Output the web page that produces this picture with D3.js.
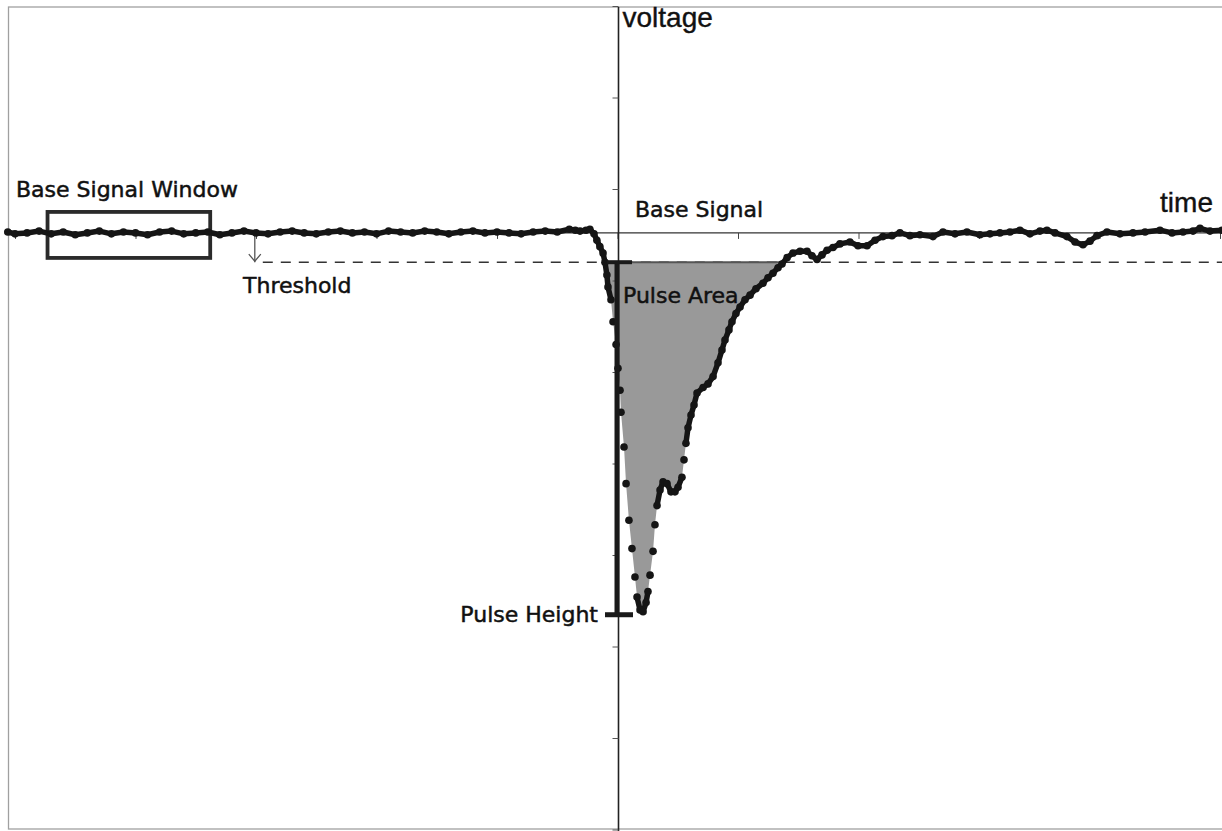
<!DOCTYPE html>
<html>
<head>
<meta charset="utf-8">
<script src="https://cdn.jsdelivr.net/npm/d3@7"></script>
<style>
  body{margin:0;background:#fff;}
  svg{display:block;}
  .lbl{font-family:"DejaVu Sans",sans-serif;font-size:22px;fill:#111;stroke:#111;stroke-width:0.5;}
  .axlbl{font-family:"Liberation Sans",Arial,sans-serif;font-size:28px;fill:#111;stroke:#111;stroke-width:0.4;}
</style>
</head>
<body>
<div id="chart"></div>
<script>
// samples before the pulse (time in us, voltage in mV)
const preTimes = [-50.6,-50,-49,-48,-47,-46,-45,-44,-43,-42,-41,-40,-39,-38,-37,-36,-35,-34,-33,-32,-31,-30,-29,-28,-27,-26,-25,-24,-23,-22,-21,-20,-19,-18,-17,-16,-15,-14,-13,-12,-11,-10,-9,-8,-7,-6,-5,-4,-3.5];
const preVolts = [-24.7,-24.9,-24.8,-24.6,-24.9,-24.7,-25.0,-24.8,-24.6,-24.9,
                  -24.7,-24.8,-25.0,-24.7,-24.6,-24.9,-24.8,-24.7,-25.0,-24.8,
                  -24.6,-24.8,-24.9,-24.7,-24.6,-24.8,-24.9,-24.7,-24.6,-24.8,
                  -24.7,-24.9,-24.6,-24.7,-24.8,-24.6,-24.7,-24.9,-24.7,-24.6,
                  -24.8,-24.7,-24.8,-24.9,-24.7,-24.6,-24.7,-24.4,-24.5];

// samples of the pulse and the tail after it
const pulseTimes = [-3.11,-2.61,-2.29,-1.95,-1.71,-1.46,-1.20,-1.04,-0.88,-0.79,-0.54,-0.37,-0.12,0.04,0.21,0.29,0.54,0.71,0.95,1.20,1.45,1.62,1.87,2.12,
                    2.37,2.53,2.70,2.95,3.11,3.28,3.53,3.78,4.11,4.44,4.77,5.02,5.35,5.52,5.68,5.85,6.10,6.35,6.60,7.10,7.51,7.93,8.34,8.67,8.92,9.25,9.50,9.83,
                    10.17,10.58,11.00,11.49,12.07,12.49,12.90,13.32,13.65,14.07,14.56,15.15,15.73,16.14,16.56,16.97,17.39,17.88,18.46,19.29,19.96,20.71,21.37,
                    22.03,22.78,23.44,24.27,25.10,26.18,27.01,28.01,29.00,30.08,30.91,31.74,32.57,33.40,34.23,35.06,35.64,36.31,37.30,37.97,38.63,39.21,39.79,
                    40.62,41.70,42.78,43.78,45.02,46.02,46.93,47.76,48.34,49.17,50.17];
const pulseVolts = [-24.6,-24.5,-24.4,-24.9,-25.6,-26.3,-27.0,-28.0,-29.4,-30.7,-32.1,-34.5,-37.0,-39.6,-42.0,-44.4,-48.2,-52.2,-56.2,-59.3,-62.4,-64.6,-66.0,-66.2,
                    -65.2,-64.0,-62.2,-59.6,-56.7,-54.6,-52.9,-52.0,-52.2,-53.1,-53.1,-52.6,-51.5,-49.6,-47.8,-46.1,-44.7,-43.6,-42.3,-41.7,-41.3,-40.5,-39.0,-37.6,-36.5,-35.4,-34.5,-33.6,
                    -32.9,-32.1,-31.6,-30.9,-30.3,-29.7,-29.2,-28.6,-28.2,-27.5,-27.0,-26.8,-26.8,-27.3,-27.7,-27.2,-26.7,-26.4,-26.0,-25.8,-26.2,-26.2,-25.6,
                    -25.2,-25.1,-24.8,-25.1,-25.0,-25.2,-24.7,-24.9,-24.7,-25.0,-24.9,-24.8,-24.7,-24.5,-24.9,-24.6,-24.5,-24.8,-25.2,-25.8,-26.1,-25.7,-25.1,
                    -24.7,-24.9,-24.8,-24.7,-24.5,-24.8,-24.7,-24.6,-24.3,-24.6,-24.5];

const xTicks = [-50,-40,-30,-20,-10,0,10,20,30,40,50];
const yTicks = [0,-10,-20,-30,-40,-50,-60,-70,-80,-90];

const baseSignal = -24.8;     //base signal level
const threshold = -28.0;      //trigger threshold
const windowStart = -47.3;    //base signal window
const windowEnd = -33.8;
const thresholdMark = -30.1;  //where the threshold arrow is drawn

const w = 1222;
const h = 831;

const xScale = d3.scaleLinear().domain([-50,50]).range([15,1220]);
const yScale = d3.scaleLinear().domain([0,-90]).range([6,829.5]);

const svg = d3.select("#chart")
              .append("svg")
              .attr("width",w)
              .attr("height",h);

//frame
svg.append("rect")
   .attr("x",8.5).attr("y",7)
   .attr("width",w).attr("height",822)
   .attr("fill","none")
   .attr("stroke","#a0a0a0")
   .attr("stroke-width",1.3);

//all samples as points
const samples = preTimes.map((t,i)=>({t:t,v:preVolts[i]}))
                .concat(pulseTimes.map((t,i)=>({t:t,v:pulseVolts[i]})));

//pulse area between threshold and signal
const area = d3.area()
               .x(d=>xScale(d.t))
               .y0(yScale(threshold))
               .y1(d=>yScale(Math.min(d.v,threshold)));
svg.append("path")
   .datum(samples)
   .attr("d",area)
   .attr("fill","#999999");

//x axis (base signal line)
const baseY = yScale(baseSignal);
svg.append("line")
   .attr("x1",9).attr("x2",w)
   .attr("y1",baseY).attr("y2",baseY)
   .attr("stroke","#333").attr("stroke-width",1.3);
const xAxis = d3.axisBottom(xScale).tickValues(xTicks).tickSize(6).tickFormat("");
svg.append("g")
   .attr("transform","translate(0,"+baseY+")")
   .call(xAxis)
   .call(g=>g.select(".domain").remove())
   .selectAll("line").attr("stroke","#444");

//y axis
const axisX = xScale(0) + 1;
svg.append("line")
   .attr("x1",axisX).attr("x2",axisX)
   .attr("y1",7).attr("y2",h)
   .attr("stroke","#222").attr("stroke-width",1.6);
const yAxis = d3.axisLeft(yScale).tickValues(yTicks).tickSize(6).tickFormat("");
svg.append("g")
   .attr("transform","translate("+axisX+",0)")
   .call(yAxis)
   .call(g=>g.select(".domain").remove())
   .selectAll("line").attr("stroke","#555");

//threshold dashed line
const thrY = yScale(threshold);
svg.append("line")
   .attr("x1",xScale(thresholdMark)+8).attr("x2",w)
   .attr("y1",thrY).attr("y2",thrY)
   .attr("stroke","#333").attr("stroke-width",1.5)
   .attr("stroke-dasharray","10,8");

//solid top edge of the pulse area
const below = samples.filter(d=>d.v<=threshold);
svg.append("line")
   .attr("x1",xScale(below[0].t)).attr("x2",xScale(below[below.length-1].t)+4)
   .attr("y1",thrY).attr("y2",thrY)
   .attr("stroke","#555").attr("stroke-width",2);

//threshold arrow
const mx = xScale(thresholdMark);
svg.append("line")
   .attr("x1",mx).attr("x2",mx)
   .attr("y1",baseY).attr("y2",thrY)
   .attr("stroke","#555").attr("stroke-width",1.3);
svg.append("path")
   .attr("d","M"+(mx-6)+","+(thrY-8)+"L"+mx+","+(thrY-1)+"L"+(mx+6)+","+(thrY-8))
   .attr("fill","none").attr("stroke","#555").attr("stroke-width",1.3);

//base signal window
svg.append("rect")
   .attr("x",xScale(windowStart))
   .attr("y",baseY-21)
   .attr("width",xScale(windowEnd)-xScale(windowStart))
   .attr("height",46)
   .attr("fill","none")
   .attr("stroke","#2a2a2a")
   .attr("stroke-width",3.8);

//signal: segments only between close samples, dots at every sample
const pairs = [];
for(let i=1;i<samples.length;i++){
    const a = samples[i-1], b = samples[i];
    const dx = xScale(b.t)-xScale(a.t), dy = yScale(b.v)-yScale(a.v);
    if(Math.sqrt(dx*dx+dy*dy)<16) pairs.push([a,b]);
}
svg.selectAll("line.seg")
   .data(pairs)
   .enter()
   .append("line")
   .attr("class","seg")
   .attr("x1",d=>xScale(d[0].t)).attr("y1",d=>yScale(d[0].v))
   .attr("x2",d=>xScale(d[1].t)).attr("y2",d=>yScale(d[1].v))
   .attr("stroke","#151515")
   .attr("stroke-width",5.5)
   .attr("stroke-linecap","round");
svg.selectAll("circle")
   .data(samples)
   .enter()
   .append("circle")
   .attr("cx",d=>xScale(d.t))
   .attr("cy",d=>yScale(d.v))
   .attr("r",3.8)
   .attr("fill","#151515");

//pulse height bar
const minV = d3.min(samples,d=>d.v);
const barX = axisX - 1.5;
svg.append("line")
   .attr("x1",barX).attr("x2",barX)
   .attr("y1",thrY).attr("y2",yScale(minV)+3)
   .attr("stroke","#1a1a1a").attr("stroke-width",5);
svg.append("line")
   .attr("x1",barX-10).attr("x2",barX+15)
   .attr("y1",thrY).attr("y2",thrY)
   .attr("stroke","#1a1a1a").attr("stroke-width",4);
svg.append("line")
   .attr("x1",barX-12).attr("x2",barX+16)
   .attr("y1",yScale(minV)+3).attr("y2",yScale(minV)+3)
   .attr("stroke","#1a1a1a").attr("stroke-width",5);

//labels
svg.append("text").attr("class","axlbl")
   .attr("x",axisX+4).attr("y",27).text("voltage");
svg.append("text").attr("class","axlbl")
   .attr("x",1213).attr("y",212).attr("text-anchor","end").text("time");
svg.append("text").attr("class","lbl")
   .attr("x",16).attr("y",197).text("Base Signal Window");
svg.append("text").attr("class","lbl")
   .attr("x",635).attr("y",217).text("Base Signal");
svg.append("text").attr("class","lbl")
   .attr("x",243).attr("y",293).text("Threshold");
svg.append("text").attr("class","lbl")
   .attr("x",623).attr("y",303).text("Pulse Area");
svg.append("text").attr("class","lbl")
   .attr("x",598).attr("y",622).attr("text-anchor","end").text("Pulse Height");
</script>
</body>
</html>
